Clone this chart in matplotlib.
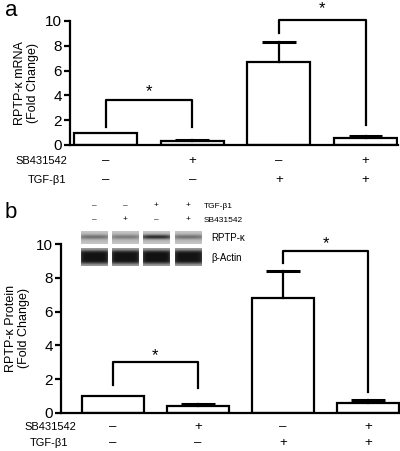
import numpy as np
import matplotlib
matplotlib.use("Agg")
import matplotlib.pyplot as plt
import matplotlib.transforms as mtransforms

plt.rcParams['font.family'] = ['Liberation Sans', 'DejaVu Sans']

# ---------------- data ----------------
conditions = [0, 1, 2, 3]
sb431542 = ['–', '+', '–', '+']
tgfb1 = ['–', '–', '+', '+']

mrna_mean = [1.0, 0.32, 6.7, 0.55]
mrna_err = [0.0, 0.12, 1.6, 0.15]

protein_mean = [1.0, 0.42, 6.8, 0.6]
protein_err = [0.0, 0.1, 1.6, 0.15]

yticks = [0, 2, 4, 6, 8, 10]

# brackets: (x1, x2, left_end, right_end, top, star_y)
mrna_brackets = [(0, 1, 1.45, 1.45, 3.6, 4.3), (2, 3, 9.0, 1.6, 10.1, 11.0)]
protein_brackets = [(0, 1, 1.65, 1.5, 3.0, 3.4), (2, 3, 8.9, 1.25, 9.6, 10.0)]

# blot inset
blot_tgf = ['–', '–', '+', '+']
blot_sb = ['–', '+', '–', '+']
rptp_band = [0.35, 0.3, 0.7, 0.35]
actin_band = [0.95, 0.95, 0.97, 0.95]

W, H = 400, 451
fig = plt.figure(figsize=(W / 100, H / 100), dpi=100)


def px_axes(left, top, right, bottom):
    return fig.add_axes([left / W, 1 - bottom / H, (right - left) / W, (bottom - top) / H])


def style(ax, xlim):
    ax.set_xlim(*xlim)
    ax.set_ylim(0, 10)
    for s in ['top', 'right']:
        ax.spines[s].set_visible(False)
    for s in ['left', 'bottom']:
        ax.spines[s].set_linewidth(1.6)
    ax.set_xticks([])
    ax.set_yticks(yticks)
    ax.set_yticklabels([str(t) for t in yticks], fontsize=11)
    ax.tick_params(axis='y', length=4, width=1.6, pad=2)


def draw(ax, means, errs, brackets, width, capw):
    ax.bar(conditions, means, width=width, color='white', edgecolor='black',
           linewidth=1.6, zorder=2)
    for x, m, e in zip(conditions, means, errs):
        if e > 0:
            ax.plot([x, x], [m, m + e], color='black', lw=1.6, zorder=3)
            ax.plot([x - capw / 2, x + capw / 2], [m + e, m + e], color='black',
                    lw=2.2, zorder=3, solid_capstyle='butt')
    for x1, x2, l, r, top, sy in brackets:
        ax.plot([x1, x1, x2, x2], [l, top, top, r], color='black', lw=1.6,
                clip_on=False, zorder=4)
        ax.text((x1 + x2) / 2, sy, '*', ha='center', va='center', fontsize=12,
                clip_on=False)


def table(ax, y_sb, y_tgf, lab_sb_x, lab_tgf_x):
    trans = mtransforms.blended_transform_factory(ax.transData, fig.transFigure)
    for i, (s, t) in enumerate(zip(sb431542, tgfb1)):
        ax.text(conditions[i], 1 - y_sb / H, s, transform=trans, ha='center', va='center',
                fontsize=9.5)
        ax.text(conditions[i], 1 - y_tgf / H, t, transform=trans, ha='center', va='center',
                fontsize=9.5)
    fig.text(lab_sb_x / W, 1 - y_sb / H, 'SB431542', ha='right', va='center', fontsize=8)
    fig.text(lab_tgf_x / W, 1 - y_tgf / H, 'TGF-β1', ha='right', va='center', fontsize=8)


# ---------------- panel a ----------------
axA = px_axes(70, 21, 398, 145)
style(axA, (-0.41, 3.375))
draw(axA, mrna_mean, mrna_err, mrna_brackets, 0.727, 0.39)
axA.set_ylabel('RPTP-κ mRNA\n(Fold Change)', fontsize=9, labelpad=4, linespacing=1.1)
table(axA, 161, 180, 67, 66)
fig.text(5 / W, 1 - 10 / H, 'a', fontsize=16, ha='left', va='center')

# ---------------- panel b ----------------
axB = px_axes(61, 244, 400, 413)
style(axB, (-0.61, 3.376))
draw(axB, protein_mean, protein_err, protein_brackets, 0.73, 0.4)
axB.set_ylabel('RPTP-κ Protein\n(Fold Change)', fontsize=9, labelpad=4, linespacing=1.1)
table(axB, 427, 443, 76, 68)
fig.text(5 / W, 1 - 213 / H, 'b', fontsize=16, ha='left', va='center')

# ---------------- blot inset ----------------
lane_left = [81, 112, 143, 175]
lane_w = 27
ny, nx = 30, 40
yy = np.linspace(-1, 1, ny)[:, None]
xx = np.linspace(-1, 1, nx)[None, :]
for i, x0 in enumerate(lane_left):
    # RPTP-kappa row: light grey with a soft darker band
    iax = px_axes(x0, 231, x0 + lane_w, 244)
    band = rptp_band[i] * np.exp(-((yy + 0.1) / 0.35) ** 2) * (1 - 0.3 * xx ** 4)
    img = 0.72 - band * 0.8 + 0.06 * (yy ** 2)
    iax.imshow(np.clip(img, 0, 1), cmap='gray', vmin=0, vmax=1, aspect='auto',
               interpolation='bilinear')
    iax.set_axis_off()
    # beta-actin row: nearly black with lighter edges
    iax = px_axes(x0, 248, x0 + lane_w, 266)
    core = actin_band[i] * np.exp(-(yy / 0.75) ** 6) * (1 - 0.25 * xx ** 8)
    img = 0.6 - 0.55 * core
    iax.imshow(np.clip(img, 0, 1), cmap='gray', vmin=0, vmax=1, aspect='auto',
               interpolation='bilinear')
    iax.set_axis_off()

for i, x0 in enumerate(lane_left):
    cx = (x0 + lane_w / 2) / W
    fig.text(cx, 1 - 206 / H, blot_tgf[i], ha='center', va='center', fontsize=6)
    fig.text(cx, 1 - 220 / H, blot_sb[i], ha='center', va='center', fontsize=6)
fig.text(204 / W, 1 - 206 / H, 'TGF-β1', ha='left', va='center', fontsize=6)
fig.text(204 / W, 1 - 220 / H, 'SB431542', ha='left', va='center', fontsize=6)
fig.text(211 / W, 1 - 238 / H, 'RPTP-κ', ha='left', va='center', fontsize=7)
fig.text(211 / W, 1 - 258 / H, 'β-Actin', ha='left', va='center', fontsize=7)

fig.savefig('out.png', dpi=100)
